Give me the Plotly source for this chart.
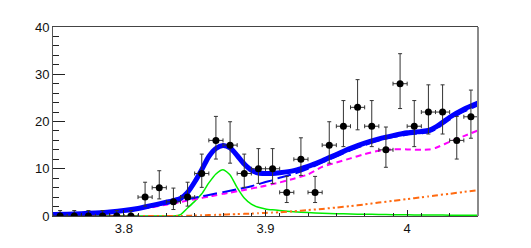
import plotly.graph_objects as go

# ---------------- data ----------------
bin_centers = [3.755, 3.765, 3.775, 3.785, 3.795, 3.805, 3.815, 3.825, 3.835, 3.845,
               3.855, 3.865, 3.875, 3.885, 3.895, 3.905, 3.915, 3.925, 3.935, 3.945,
               3.955, 3.965, 3.975, 3.985, 3.995, 4.005, 4.015, 4.025, 4.035, 4.045]
counts = [0, 0, 0, 0, 0, 0, 4, 6, 3, 4,
          9, 16, 15, 9, 10, 10, 5, 12, 5, 15,
          19, 23, 19, 14, 28, 19, 22, 22, 16, 21]
err_low = [0, 0, 0, 0, 0, 0, 1.91, 2.38, 1.63, 1.91,
           2.94, 3.95, 3.82, 2.94, 3.10, 3.10, 2.15, 3.41, 2.15, 3.82,
           4.32, 4.76, 4.32, 3.69, 5.26, 4.32, 4.65, 4.65, 3.95, 4.54]
err_high = [1.15, 1.15, 1.15, 1.15, 1.15, 1.15, 3.15, 3.58, 2.91, 3.15,
            4.10, 5.08, 4.95, 4.10, 4.26, 4.26, 3.38, 4.55, 3.38, 4.95,
            5.43, 5.86, 5.43, 4.83, 6.35, 5.43, 5.76, 5.76, 5.08, 5.65]
half_bin = [0.005] * len(bin_centers)

curve_x = [3.75, 3.76, 3.77, 3.78, 3.79, 3.80, 3.81, 3.82, 3.83, 3.835,
           3.84, 3.845, 3.85, 3.855, 3.86, 3.865, 3.87, 3.875, 3.88, 3.885,
           3.89, 3.895, 3.90, 3.905, 3.91, 3.92, 3.93, 3.94, 3.95, 3.96,
           3.97, 3.98, 3.99, 4.00, 4.01, 4.015, 4.02, 4.03, 4.04, 4.05]
total_fit = [0.3, 0.38, 0.5, 0.65, 0.85, 1.15, 1.6, 2.25, 2.9, 3.25,
             3.7, 5.0, 7.2, 9.8, 12.6, 14.3, 14.9, 14.4, 12.8, 11.0,
             9.7, 9.1, 9.0, 9.0, 9.15, 9.6, 10.5, 11.7, 13.0, 14.3,
             15.4, 16.3, 17.0, 17.6, 17.9, 18.1, 18.8, 20.9, 22.6, 23.9]
bkg_plus_other = [0.3, 0.38, 0.48, 0.63, 0.83, 1.1, 1.5, 2.0, 2.6, 2.9,
                  3.25, 3.55, 3.85, 4.15, 4.45, 4.75, 5.05, 5.35, 5.65, 5.95,
                  6.3, 6.75, 7.2, 7.6, 8.1, 8.9, 10.0, 11.3, 12.6, 13.9,
                  15.0, 16.0, 16.7, 17.2, 17.5, 17.7, 18.3, 20.4, 22.1, 23.4]
background = [0.3, 0.38, 0.48, 0.62, 0.8, 1.05, 1.4, 1.85, 2.4, 2.65,
              2.95, 3.25, 3.55, 3.8, 4.1, 4.4, 4.7, 4.95, 5.25, 5.5,
              5.8, 6.1, 6.4, 6.75, 7.1, 7.9, 8.8, 10.4, 11.3, 12.2,
              13.1, 13.8, 14.1, 14.1, 14.0, 14.05, 14.4, 15.7, 16.9, 18.1]
other_component = [0, 0, 0, 0, 0, 0, 0, 0, 0, 0,
                   0, 0.05, 0.1, 0.15, 0.2, 0.25, 0.3, 0.35, 0.4, 0.45,
                   0.5, 0.57, 0.65, 0.72, 0.8, 1.0, 1.25, 1.5, 1.8, 2.1,
                   2.45, 2.85, 3.2, 3.6, 3.95, 4.15, 4.35, 4.7, 5.1, 5.45]
signal = [0, 0, 0, 0, 0, 0, 0, 0, 0, 0,
          0.3, 1.7, 3.1, 4.7, 7.0, 8.9, 9.8, 8.7, 6.0, 3.8,
          2.5, 1.85, 1.5, 1.3, 1.15, 0.9, 0.72, 0.6, 0.5, 0.42,
          0.37, 0.32, 0.28, 0.25, 0.22, 0.21, 0.2, 0.18, 0.16, 0.15]

x_tick_vals = [3.8, 3.9, 4.0]
x_tick_labels = ["3.8", "3.9", "4"]
y_tick_vals = [0, 10, 20, 30, 40]
y_tick_labels = ["0", "10", "20", "30", "40"]

# ---------------- figure ----------------
fig = go.Figure()
spl = dict(shape="spline", smoothing=0.6)

fig.add_trace(go.Scatter(x=curve_x, y=signal, mode="lines",
                         line=dict(color="#00ee00", width=1.5, **spl), hoverinfo="skip"))
fig.add_trace(go.Scatter(x=curve_x, y=other_component, mode="lines",
                         line=dict(color="#ff6a10", width=2, dash="6px,3px,2px,3px,2px,3px", **spl),
                         hoverinfo="skip"))
fig.add_trace(go.Scatter(x=curve_x, y=background, mode="lines",
                         line=dict(color="#ff00ff", width=2, dash="6px,4px", **spl), hoverinfo="skip"))
fig.add_trace(go.Scatter(x=curve_x, y=bkg_plus_other, mode="lines",
                         line=dict(color="#0000ff", width=2, dash="14px,5px", **spl), hoverinfo="skip"))
fig.add_trace(go.Scatter(x=curve_x, y=total_fit, mode="lines",
                         line=dict(color="#0000ff", width=5, **spl), hoverinfo="skip"))

fig.add_trace(go.Scatter(
    x=bin_centers, y=counts, mode="markers",
    marker=dict(color="black", size=7, symbol="circle"),
    error_y=dict(type="data", symmetric=False, array=err_high, arrayminus=err_low,
                 color="#333333", thickness=1, width=2),
    error_x=dict(type="data", array=half_bin, color="#333333", thickness=1, width=2),
))

# page body has an 8px margin: size the figure so the plot area lands where the reference has it
fig.update_layout(
    width=523, height=240,
    margin=dict(l=45, r=53, t=17, b=25),
    paper_bgcolor="white", plot_bgcolor="white",
    showlegend=False,
    font=dict(family="Liberation Sans, Arial, sans-serif", size=13, color="#111111"),
    shapes=[dict(type="line", xref="paper", yref="paper", x0=1, x1=1, y0=0, y1=1,
                 line=dict(color="#8a8a8a", width=2), layer="above")],
)
fig.update_xaxes(
    range=[3.75, 4.05], showgrid=False, zeroline=False,
    showline=True, linecolor="#444444", linewidth=1, mirror=True,
    tickmode="array", tickvals=x_tick_vals, ticktext=x_tick_labels,
    ticks="inside", ticklen=6, tickwidth=1, tickcolor="#222222",
    minor=dict(ticks="inside", ticklen=3, dtick=0.02, tick0=3.75, tickcolor="#222222", showgrid=False),
)
fig.update_yaxes(
    range=[0, 40], showgrid=False, zeroline=False,
    showline=True, linecolor="#555555", linewidth=1, mirror=False,
    tickmode="array", tickvals=y_tick_vals, ticktext=y_tick_labels,
    ticks="inside", ticklen=12, tickwidth=1, tickcolor="#222222",
    minor=dict(ticks="inside", ticklen=6, dtick=2, tick0=0, tickcolor="#222222", showgrid=False),
)

fig.write_html("out.html")
